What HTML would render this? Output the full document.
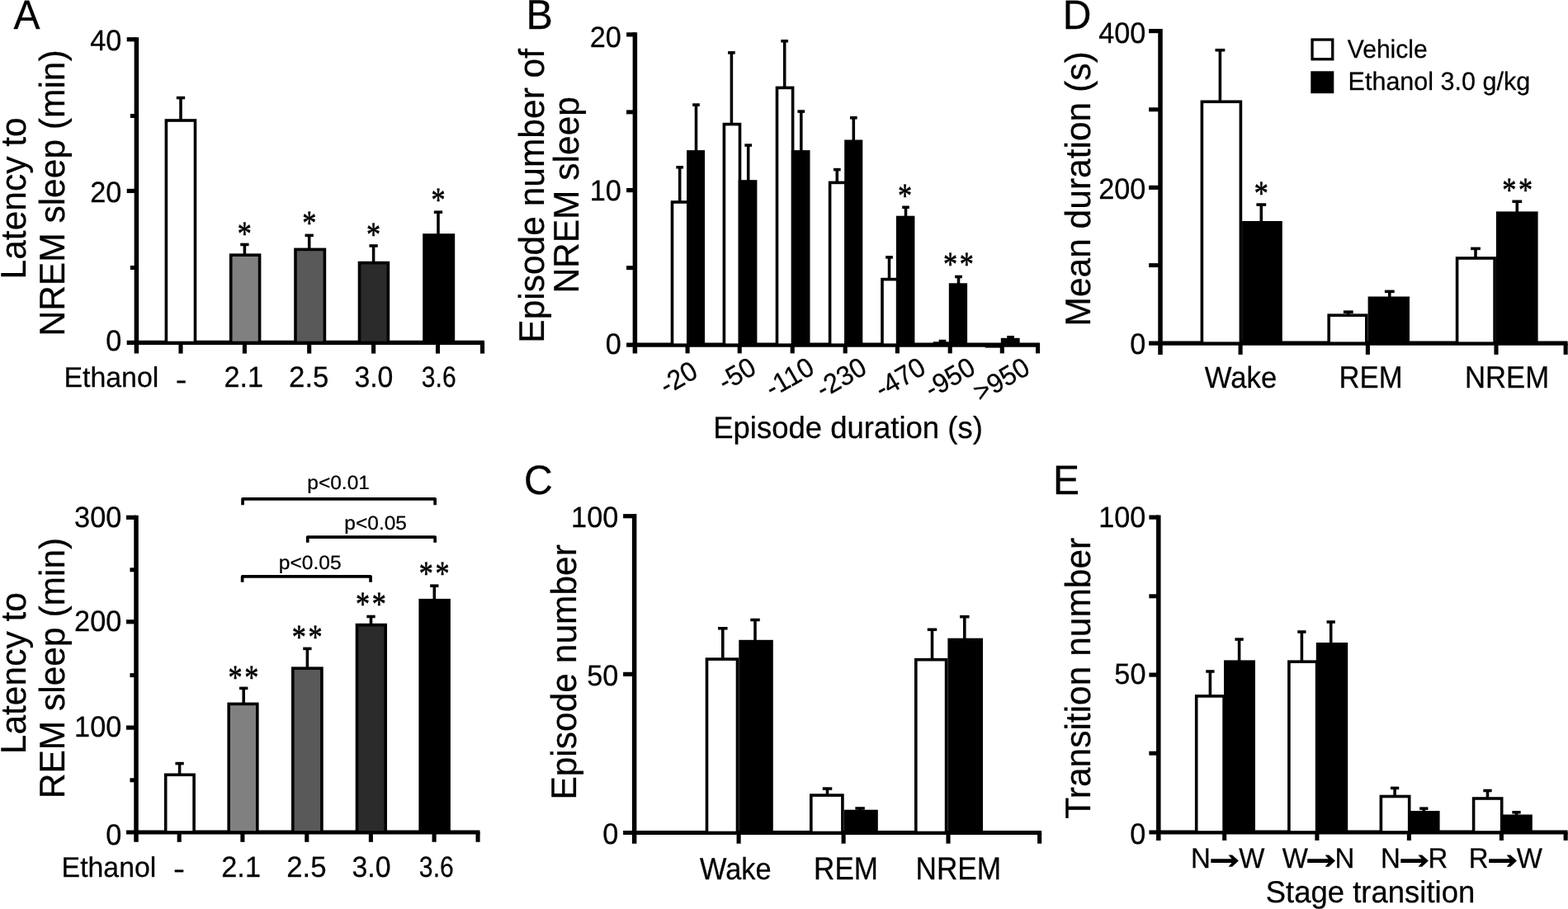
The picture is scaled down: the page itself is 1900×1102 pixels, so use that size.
<!DOCTYPE html>
<html lang="en">
<head>
<meta charset="utf-8">
<title>Figure</title>
<style>
html,body{margin:0;padding:0;background:#fff;}
body{width:1900px;height:1102px;overflow:hidden;}
svg{display:block;}
text{fill:#000;text-rendering:geometricPrecision;}
</style>
</head>
<body>
<svg width="1900" height="1102" viewBox="0 0 1900 1102">
<rect x="0" y="0" width="1900" height="1102" fill="#fff"/>
<text transform="translate(16.40,34.70) scale(1,1.04)" font-size="48" text-anchor="start" stroke="#000" stroke-width="0.25" font-family='"Liberation Sans", Arial, Helvetica, sans-serif' >A</text>
<line x1="165.40" y1="45.15" x2="165.40" y2="428.60" stroke="#000" stroke-width="5.5"/>
<line x1="153.70" y1="415.45" x2="587.00" y2="415.45" stroke="#000" stroke-width="5.2"/>
<line x1="153.70" y1="47.75" x2="165.40" y2="47.75" stroke="#000" stroke-width="5.2"/>
<line x1="153.70" y1="231.45" x2="165.40" y2="231.45" stroke="#000" stroke-width="5.2"/>
<line x1="157.85" y1="140.50" x2="165.40" y2="140.50" stroke="#000" stroke-width="5.0"/>
<line x1="157.85" y1="324.50" x2="165.40" y2="324.50" stroke="#000" stroke-width="5.0"/>
<line x1="219.00" y1="415.45" x2="219.00" y2="428.60" stroke="#000" stroke-width="5.1"/>
<line x1="296.40" y1="415.45" x2="296.40" y2="428.60" stroke="#000" stroke-width="5.1"/>
<line x1="374.70" y1="415.45" x2="374.70" y2="428.60" stroke="#000" stroke-width="5.1"/>
<line x1="452.60" y1="415.45" x2="452.60" y2="428.60" stroke="#000" stroke-width="5.1"/>
<line x1="530.50" y1="415.45" x2="530.50" y2="428.60" stroke="#000" stroke-width="5.1"/>
<line x1="584.55" y1="415.45" x2="584.55" y2="428.60" stroke="#000" stroke-width="5.1"/>
<text transform="translate(147.37,60.80) scale(1,1.03)" font-size="34.3" text-anchor="end" stroke="#000" stroke-width="0.25" font-family='"Liberation Sans", Arial, Helvetica, sans-serif'>40</text>
<text transform="translate(147.37,245.10) scale(1,1.03)" font-size="34.3" text-anchor="end" stroke="#000" stroke-width="0.25" font-family='"Liberation Sans", Arial, Helvetica, sans-serif'>20</text>
<text transform="translate(147.33,424.50) scale(1,1.03)" font-size="34.3" text-anchor="end" stroke="#000" stroke-width="0.25" font-family='"Liberation Sans", Arial, Helvetica, sans-serif'>0</text>
<line x1="213.85" y1="118.58" x2="224.15" y2="118.58" stroke="#000" stroke-width="3.55"/>
<line x1="219.00" y1="118.58" x2="219.00" y2="145.20" stroke="#000" stroke-width="3.55"/>
<rect x="201.40" y="146.00" width="35.10" height="269.45" fill="#fff" stroke="#000" stroke-width="3.6"/>
<line x1="291.25" y1="296.47" x2="301.55" y2="296.47" stroke="#000" stroke-width="3.55"/>
<line x1="296.40" y1="296.47" x2="296.40" y2="308.40" stroke="#000" stroke-width="3.55"/>
<rect x="279.70" y="309.20" width="34.90" height="106.25" fill="#808080" stroke="#000" stroke-width="3.6"/>
<line x1="369.55" y1="285.38" x2="379.85" y2="285.38" stroke="#000" stroke-width="3.55"/>
<line x1="374.70" y1="285.38" x2="374.70" y2="301.60" stroke="#000" stroke-width="3.55"/>
<rect x="358.00" y="302.40" width="35.40" height="113.05" fill="#595959" stroke="#000" stroke-width="3.6"/>
<line x1="447.45" y1="297.97" x2="457.75" y2="297.97" stroke="#000" stroke-width="3.55"/>
<line x1="452.60" y1="297.97" x2="452.60" y2="317.80" stroke="#000" stroke-width="3.55"/>
<rect x="435.50" y="318.60" width="34.90" height="96.85" fill="#2b2b2b" stroke="#000" stroke-width="3.6"/>
<line x1="525.85" y1="257.18" x2="536.15" y2="257.18" stroke="#000" stroke-width="3.55"/>
<line x1="531.00" y1="257.18" x2="531.00" y2="284.20" stroke="#000" stroke-width="3.55"/>
<rect x="512.20" y="283.20" width="39.00" height="132.25" fill="#000"/>
<text transform="translate(287.65,296.84) scale(0.855,1.04)" font-size="40" stroke="#000" stroke-width="0.6" stroke-linejoin="round" font-family='"Liberation Serif", "Times New Roman", serif' >*</text>
<text transform="translate(366.15,284.14) scale(0.855,1.04)" font-size="40" stroke="#000" stroke-width="0.6" stroke-linejoin="round" font-family='"Liberation Serif", "Times New Roman", serif' >*</text>
<text transform="translate(444.05,297.54) scale(0.855,1.04)" font-size="40" stroke="#000" stroke-width="0.6" stroke-linejoin="round" font-family='"Liberation Serif", "Times New Roman", serif' >*</text>
<text transform="translate(522.45,256.44) scale(0.855,1.04)" font-size="40" stroke="#000" stroke-width="0.6" stroke-linejoin="round" font-family='"Liberation Serif", "Times New Roman", serif' >*</text>
<text transform="translate(77.40,469.40) scale(0.9882,1.0)" font-size="34.30" text-anchor="start" stroke="#000" stroke-width="0.25" font-family='"Liberation Sans", Arial, Helvetica, sans-serif' >Ethanol</text>
<text transform="translate(212.84,471.50) scale(1.2019,1.0)" font-size="34.30" text-anchor="start" stroke="#000" stroke-width="0.25" font-family='"Liberation Sans", Arial, Helvetica, sans-serif' >-</text>
<text transform="translate(271.49,469.40) scale(1.0000,1.03)" font-size="34.30" text-anchor="start" stroke="#000" stroke-width="0.25" font-family='"Liberation Sans", Arial, Helvetica, sans-serif' >2.1</text>
<text transform="translate(350.06,469.40) scale(1.0148,1.03)" font-size="34.30" text-anchor="start" stroke="#000" stroke-width="0.25" font-family='"Liberation Sans", Arial, Helvetica, sans-serif' >2.5</text>
<text transform="translate(429.38,469.40) scale(0.9866,1.03)" font-size="34.30" text-anchor="start" stroke="#000" stroke-width="0.25" font-family='"Liberation Sans", Arial, Helvetica, sans-serif' >3.0</text>
<text transform="translate(510.87,469.40) scale(0.8769,1.03)" font-size="34.30" text-anchor="start" stroke="#000" stroke-width="0.25" font-family='"Liberation Sans", Arial, Helvetica, sans-serif' >3.6</text>
<text transform="translate(30.50,338.41) rotate(-90) scale(1,1.015)" font-size="42.50" stroke="#000" stroke-width="0.25" font-family='"Liberation Sans", Arial, Helvetica, sans-serif'>Latency to</text>
<text transform="translate(78.20,407.51) rotate(-90) scale(1,1.015)" font-size="42.50" stroke="#000" stroke-width="0.25" font-family='"Liberation Sans", Arial, Helvetica, sans-serif'>NREM sleep (min)</text>
<line x1="165.00" y1="624.70" x2="165.00" y2="1020.80" stroke="#000" stroke-width="5.5"/>
<line x1="153.00" y1="1009.00" x2="581.50" y2="1009.00" stroke="#000" stroke-width="5.2"/>
<line x1="153.00" y1="627.30" x2="165.00" y2="627.30" stroke="#000" stroke-width="5.2"/>
<line x1="153.00" y1="753.80" x2="165.00" y2="753.80" stroke="#000" stroke-width="5.2"/>
<line x1="153.00" y1="882.10" x2="165.00" y2="882.10" stroke="#000" stroke-width="5.2"/>
<line x1="157.45" y1="690.80" x2="165.00" y2="690.80" stroke="#000" stroke-width="5.0"/>
<line x1="157.45" y1="818.60" x2="165.00" y2="818.60" stroke="#000" stroke-width="5.0"/>
<line x1="157.45" y1="945.80" x2="165.00" y2="945.80" stroke="#000" stroke-width="5.0"/>
<line x1="217.20" y1="1009.00" x2="217.20" y2="1020.80" stroke="#000" stroke-width="5.1"/>
<line x1="293.90" y1="1009.00" x2="293.90" y2="1020.80" stroke="#000" stroke-width="5.1"/>
<line x1="371.80" y1="1009.00" x2="371.80" y2="1020.80" stroke="#000" stroke-width="5.1"/>
<line x1="449.40" y1="1009.00" x2="449.40" y2="1020.80" stroke="#000" stroke-width="5.1"/>
<line x1="526.10" y1="1009.00" x2="526.10" y2="1020.80" stroke="#000" stroke-width="5.1"/>
<line x1="579.05" y1="1009.00" x2="579.05" y2="1020.80" stroke="#000" stroke-width="5.1"/>
<text transform="translate(147.32,638.60) scale(1,1.03)" font-size="34.3" text-anchor="end" stroke="#000" stroke-width="0.25" font-family='"Liberation Sans", Arial, Helvetica, sans-serif'>300</text>
<text transform="translate(147.32,765.20) scale(1,1.03)" font-size="34.3" text-anchor="end" stroke="#000" stroke-width="0.25" font-family='"Liberation Sans", Arial, Helvetica, sans-serif'>200</text>
<text transform="translate(147.32,893.20) scale(1,1.03)" font-size="34.3" text-anchor="end" stroke="#000" stroke-width="0.25" font-family='"Liberation Sans", Arial, Helvetica, sans-serif'>100</text>
<text transform="translate(147.33,1023.50) scale(1,1.03)" font-size="34.3" text-anchor="end" stroke="#000" stroke-width="0.25" font-family='"Liberation Sans", Arial, Helvetica, sans-serif'>0</text>
<line x1="212.45" y1="925.57" x2="222.75" y2="925.57" stroke="#000" stroke-width="3.55"/>
<line x1="217.60" y1="925.57" x2="217.60" y2="938.50" stroke="#000" stroke-width="3.55"/>
<rect x="200.70" y="939.30" width="34.40" height="69.70" fill="#fff" stroke="#000" stroke-width="3.6"/>
<line x1="290.05" y1="834.38" x2="300.35" y2="834.38" stroke="#000" stroke-width="3.55"/>
<line x1="295.20" y1="834.38" x2="295.20" y2="852.60" stroke="#000" stroke-width="3.55"/>
<rect x="277.20" y="853.40" width="34.60" height="155.60" fill="#808080" stroke="#000" stroke-width="3.6"/>
<line x1="367.25" y1="786.38" x2="377.55" y2="786.38" stroke="#000" stroke-width="3.55"/>
<line x1="372.40" y1="786.38" x2="372.40" y2="809.40" stroke="#000" stroke-width="3.55"/>
<rect x="354.80" y="810.20" width="35.10" height="198.80" fill="#595959" stroke="#000" stroke-width="3.6"/>
<line x1="444.35" y1="747.48" x2="454.65" y2="747.48" stroke="#000" stroke-width="3.55"/>
<line x1="449.50" y1="747.48" x2="449.50" y2="756.80" stroke="#000" stroke-width="3.55"/>
<rect x="432.50" y="757.60" width="34.70" height="251.40" fill="#2b2b2b" stroke="#000" stroke-width="3.6"/>
<line x1="521.15" y1="710.17" x2="531.45" y2="710.17" stroke="#000" stroke-width="3.55"/>
<line x1="526.30" y1="710.17" x2="526.30" y2="726.90" stroke="#000" stroke-width="3.55"/>
<rect x="507.40" y="725.90" width="38.50" height="283.10" fill="#000"/>
<text transform="translate(276.55,835.44) scale(0.855,1.04)" font-size="40" stroke="#000" stroke-width="0.6" stroke-linejoin="round" font-family='"Liberation Serif", "Times New Roman", serif' letter-spacing="3.16">**</text>
<text transform="translate(353.75,785.74) scale(0.855,1.04)" font-size="40" stroke="#000" stroke-width="0.6" stroke-linejoin="round" font-family='"Liberation Serif", "Times New Roman", serif' letter-spacing="3.16">**</text>
<text transform="translate(431.05,746.24) scale(0.855,1.04)" font-size="40" stroke="#000" stroke-width="0.6" stroke-linejoin="round" font-family='"Liberation Serif", "Times New Roman", serif' letter-spacing="3.16">**</text>
<text transform="translate(507.65,709.24) scale(0.855,1.04)" font-size="40" stroke="#000" stroke-width="0.6" stroke-linejoin="round" font-family='"Liberation Serif", "Times New Roman", serif' letter-spacing="3.16">**</text>
<text transform="translate(74.61,1062.75) scale(0.9855,1.0)" font-size="34.30" text-anchor="start" stroke="#000" stroke-width="0.25" font-family='"Liberation Sans", Arial, Helvetica, sans-serif' >Ethanol</text>
<text transform="translate(209.91,1064.80) scale(1.2257,1.0)" font-size="34.30" text-anchor="start" stroke="#000" stroke-width="0.25" font-family='"Liberation Sans", Arial, Helvetica, sans-serif' >-</text>
<text transform="translate(268.29,1062.75) scale(1.0000,1.03)" font-size="34.30" text-anchor="start" stroke="#000" stroke-width="0.25" font-family='"Liberation Sans", Arial, Helvetica, sans-serif' >2.1</text>
<text transform="translate(347.16,1062.75) scale(1.0137,1.03)" font-size="34.30" text-anchor="start" stroke="#000" stroke-width="0.25" font-family='"Liberation Sans", Arial, Helvetica, sans-serif' >2.5</text>
<text transform="translate(426.43,1062.75) scale(0.9866,1.03)" font-size="34.30" text-anchor="start" stroke="#000" stroke-width="0.25" font-family='"Liberation Sans", Arial, Helvetica, sans-serif' >3.0</text>
<text transform="translate(507.87,1062.75) scale(0.8791,1.03)" font-size="34.30" text-anchor="start" stroke="#000" stroke-width="0.25" font-family='"Liberation Sans", Arial, Helvetica, sans-serif' >3.6</text>
<text transform="translate(30.50,914.21) rotate(-90) scale(1,1.015)" font-size="42.50" stroke="#000" stroke-width="0.25" font-family='"Liberation Sans", Arial, Helvetica, sans-serif'>Latency to</text>
<text transform="translate(78.20,968.21) rotate(-90) scale(1,1.015)" font-size="42.50" stroke="#000" stroke-width="0.25" font-family='"Liberation Sans", Arial, Helvetica, sans-serif'>REM sleep (min)</text>
<path d="M294.05 612.20 V604.85 H527.15 V612.20" fill="none" stroke="#000" stroke-width="3.7" stroke-linejoin="round"/>
<path d="M372.75 657.80 V651.05 H527.15 V657.80" fill="none" stroke="#000" stroke-width="3.7" stroke-linejoin="round"/>
<path d="M293.65 705.70 V698.95 H449.05 V705.70" fill="none" stroke="#000" stroke-width="3.7" stroke-linejoin="round"/>
<text transform="translate(372.31,593.00) scale(1.0000,0.96)" font-size="24.50" text-anchor="start" stroke="#000" stroke-width="0.25" font-family='"Liberation Sans", Arial, Helvetica, sans-serif' >p&lt;0.01</text>
<text transform="translate(417.37,642.00) scale(0.9990,0.96)" font-size="24.50" text-anchor="start" stroke="#000" stroke-width="0.25" font-family='"Liberation Sans", Arial, Helvetica, sans-serif' >p&lt;0.05</text>
<text transform="translate(337.80,690.45) scale(1.0026,0.96)" font-size="24.50" text-anchor="start" stroke="#000" stroke-width="0.25" font-family='"Liberation Sans", Arial, Helvetica, sans-serif' >p&lt;0.05</text>
<text transform="translate(637.50,34.80) scale(1,1.04)" font-size="48.5" text-anchor="start" stroke="#000" stroke-width="0.25" font-family='"Liberation Sans", Arial, Helvetica, sans-serif' >B</text>
<line x1="769.40" y1="39.30" x2="769.40" y2="428.40" stroke="#000" stroke-width="5.5"/>
<line x1="759.10" y1="418.20" x2="1260.00" y2="418.20" stroke="#000" stroke-width="5.2"/>
<line x1="759.10" y1="41.90" x2="769.40" y2="41.90" stroke="#000" stroke-width="5.2"/>
<line x1="759.10" y1="230.60" x2="769.40" y2="230.60" stroke="#000" stroke-width="5.2"/>
<line x1="759.05" y1="135.90" x2="769.40" y2="135.90" stroke="#000" stroke-width="5.0"/>
<line x1="759.05" y1="324.70" x2="769.40" y2="324.70" stroke="#000" stroke-width="5.0"/>
<line x1="833.10" y1="418.20" x2="833.10" y2="428.40" stroke="#000" stroke-width="5.1"/>
<line x1="896.20" y1="418.20" x2="896.20" y2="428.40" stroke="#000" stroke-width="5.1"/>
<line x1="960.20" y1="418.20" x2="960.20" y2="428.40" stroke="#000" stroke-width="5.1"/>
<line x1="1024.20" y1="418.20" x2="1024.20" y2="428.40" stroke="#000" stroke-width="5.1"/>
<line x1="1087.40" y1="418.20" x2="1087.40" y2="428.40" stroke="#000" stroke-width="5.1"/>
<line x1="1151.20" y1="418.20" x2="1151.20" y2="428.40" stroke="#000" stroke-width="5.1"/>
<line x1="1214.30" y1="418.20" x2="1214.30" y2="428.40" stroke="#000" stroke-width="5.1"/>
<line x1="1257.55" y1="418.20" x2="1257.55" y2="428.40" stroke="#000" stroke-width="5.1"/>
<text transform="translate(752.87,57.10) scale(1,1.03)" font-size="34.3" text-anchor="end" stroke="#000" stroke-width="0.25" font-family='"Liberation Sans", Arial, Helvetica, sans-serif'>20</text>
<text transform="translate(752.87,242.60) scale(1,1.03)" font-size="34.3" text-anchor="end" stroke="#000" stroke-width="0.25" font-family='"Liberation Sans", Arial, Helvetica, sans-serif'>10</text>
<text transform="translate(752.83,428.90) scale(1,1.03)" font-size="34.3" text-anchor="end" stroke="#000" stroke-width="0.25" font-family='"Liberation Sans", Arial, Helvetica, sans-serif'>0</text>
<line x1="819.35" y1="202.78" x2="828.05" y2="202.78" stroke="#000" stroke-width="3.55"/>
<line x1="823.70" y1="202.78" x2="823.70" y2="244.20" stroke="#000" stroke-width="3.55"/>
<rect x="814.50" y="245.00" width="19.40" height="173.20" fill="#fff" stroke="#000" stroke-width="3.6"/>
<line x1="839.15" y1="127.08" x2="847.85" y2="127.08" stroke="#000" stroke-width="3.55"/>
<line x1="843.50" y1="127.08" x2="843.50" y2="183.10" stroke="#000" stroke-width="3.55"/>
<rect x="832.10" y="182.10" width="21.95" height="236.10" fill="#000"/>
<line x1="882.05" y1="63.88" x2="890.75" y2="63.88" stroke="#000" stroke-width="3.55"/>
<line x1="886.40" y1="63.88" x2="886.40" y2="149.80" stroke="#000" stroke-width="3.55"/>
<rect x="877.40" y="150.60" width="19.10" height="267.60" fill="#fff" stroke="#000" stroke-width="3.6"/>
<line x1="902.35" y1="176.08" x2="911.05" y2="176.08" stroke="#000" stroke-width="3.55"/>
<line x1="906.70" y1="176.08" x2="906.70" y2="219.20" stroke="#000" stroke-width="3.55"/>
<rect x="894.70" y="218.20" width="22.70" height="200.00" fill="#000"/>
<line x1="946.35" y1="49.77" x2="955.05" y2="49.77" stroke="#000" stroke-width="3.55"/>
<line x1="950.70" y1="49.77" x2="950.70" y2="105.60" stroke="#000" stroke-width="3.55"/>
<rect x="941.50" y="106.40" width="19.10" height="311.80" fill="#fff" stroke="#000" stroke-width="3.6"/>
<line x1="966.45" y1="135.08" x2="975.15" y2="135.08" stroke="#000" stroke-width="3.55"/>
<line x1="970.80" y1="135.08" x2="970.80" y2="183.10" stroke="#000" stroke-width="3.55"/>
<rect x="958.80" y="182.10" width="22.70" height="236.10" fill="#000"/>
<line x1="1009.95" y1="205.58" x2="1018.65" y2="205.58" stroke="#000" stroke-width="3.55"/>
<line x1="1014.30" y1="205.58" x2="1014.30" y2="220.60" stroke="#000" stroke-width="3.55"/>
<rect x="1005.60" y="221.40" width="19.40" height="196.80" fill="#fff" stroke="#000" stroke-width="3.6"/>
<line x1="1029.95" y1="142.78" x2="1038.65" y2="142.78" stroke="#000" stroke-width="3.55"/>
<line x1="1034.30" y1="142.78" x2="1034.30" y2="170.50" stroke="#000" stroke-width="3.55"/>
<rect x="1023.20" y="169.50" width="22.10" height="248.70" fill="#000"/>
<line x1="1073.15" y1="311.88" x2="1081.85" y2="311.88" stroke="#000" stroke-width="3.55"/>
<line x1="1077.50" y1="311.88" x2="1077.50" y2="337.80" stroke="#000" stroke-width="3.55"/>
<rect x="1069.00" y="338.60" width="18.70" height="79.60" fill="#fff" stroke="#000" stroke-width="3.6"/>
<line x1="1093.15" y1="251.28" x2="1101.85" y2="251.28" stroke="#000" stroke-width="3.55"/>
<line x1="1097.50" y1="251.28" x2="1097.50" y2="262.70" stroke="#000" stroke-width="3.55"/>
<rect x="1085.90" y="261.70" width="22.50" height="156.50" fill="#000"/>
<line x1="1137.65" y1="413.57" x2="1146.35" y2="413.57" stroke="#000" stroke-width="3.55"/>
<line x1="1142.00" y1="413.57" x2="1142.00" y2="415.30" stroke="#000" stroke-width="3.55"/>
<rect x="1132.55" y="416.10" width="16.65" height="2.10" fill="#fff" stroke="#000" stroke-width="3.6"/>
<line x1="1157.15" y1="335.47" x2="1165.85" y2="335.47" stroke="#000" stroke-width="3.55"/>
<line x1="1161.50" y1="335.47" x2="1161.50" y2="344.30" stroke="#000" stroke-width="3.55"/>
<rect x="1149.80" y="343.30" width="22.30" height="74.90" fill="#000"/>
<line x1="1220.25" y1="408.77" x2="1228.95" y2="408.77" stroke="#000" stroke-width="3.55"/>
<line x1="1224.60" y1="408.77" x2="1224.60" y2="410.80" stroke="#000" stroke-width="3.55"/>
<rect x="1212.80" y="409.80" width="22.85" height="8.40" fill="#000"/>
<rect x="1193.7" y="417" width="19" height="4.6" fill="#000"/>
<text transform="translate(1088.05,250.64) scale(0.855,1.04)" font-size="40" stroke="#000" stroke-width="0.6" stroke-linejoin="round" font-family='"Liberation Serif", "Times New Roman", serif' >*</text>
<text transform="translate(1143.05,334.04) scale(0.855,1.04)" font-size="40" stroke="#000" stroke-width="0.6" stroke-linejoin="round" font-family='"Liberation Serif", "Times New Roman", serif' letter-spacing="3.16">**</text>
<text transform="translate(847.6,456.2) rotate(-30) scale(1,1.03)" font-size="32" text-anchor="end" stroke="#000" stroke-width="0.25" font-family='"Liberation Sans", Arial, Helvetica, sans-serif'>-20</text>
<text transform="translate(918.5,451.6) rotate(-30) scale(1,1.03)" font-size="32" text-anchor="end" stroke="#000" stroke-width="0.25" font-family='"Liberation Sans", Arial, Helvetica, sans-serif'>-50</text>
<text transform="translate(989.0,451.6) rotate(-30) scale(1,1.03)" font-size="32" text-anchor="end" stroke="#000" stroke-width="0.25" font-family='"Liberation Sans", Arial, Helvetica, sans-serif'>-110</text>
<text transform="translate(1052.5,451.6) rotate(-30) scale(1,1.03)" font-size="32" text-anchor="end" stroke="#000" stroke-width="0.25" font-family='"Liberation Sans", Arial, Helvetica, sans-serif'>-230</text>
<text transform="translate(1124.0,451.6) rotate(-30) scale(1,1.03)" font-size="32" text-anchor="end" stroke="#000" stroke-width="0.25" font-family='"Liberation Sans", Arial, Helvetica, sans-serif'>-470</text>
<text transform="translate(1184.2,451.6) rotate(-30) scale(1,1.03)" font-size="32" text-anchor="end" stroke="#000" stroke-width="0.25" font-family='"Liberation Sans", Arial, Helvetica, sans-serif'>-950</text>
<text transform="translate(1250.2,451.8) rotate(-30) scale(1,1.03)" font-size="32" text-anchor="end" stroke="#000" stroke-width="0.25" font-family='"Liberation Sans", Arial, Helvetica, sans-serif'>&gt;950</text>
<text transform="translate(1027.50,530.60) scale(1,1.02)" font-size="36.5" text-anchor="middle" stroke="#000" stroke-width="0.25" font-family='"Liberation Sans", Arial, Helvetica, sans-serif' >Episode duration (s)</text>
<text transform="translate(659.00,415.71) rotate(-90) scale(1,1.015)" font-size="42.50" stroke="#000" stroke-width="0.25" font-family='"Liberation Sans", Arial, Helvetica, sans-serif'>Episode number of</text>
<text transform="translate(700.90,355.61) rotate(-90) scale(1,1.015)" font-size="42.50" stroke="#000" stroke-width="0.25" font-family='"Liberation Sans", Arial, Helvetica, sans-serif'>NREM sleep</text>
<text transform="translate(635.00,598.90) scale(1,1.04)" font-size="48" text-anchor="start" stroke="#000" stroke-width="0.25" font-family='"Liberation Sans", Arial, Helvetica, sans-serif' >C</text>
<line x1="768.65" y1="623.10" x2="768.65" y2="1022.70" stroke="#000" stroke-width="5.5"/>
<line x1="755.10" y1="1009.50" x2="1262.10" y2="1009.50" stroke="#000" stroke-width="5.2"/>
<line x1="755.10" y1="625.70" x2="768.65" y2="625.70" stroke="#000" stroke-width="5.2"/>
<line x1="755.10" y1="817.35" x2="768.65" y2="817.35" stroke="#000" stroke-width="5.2"/>
<line x1="895.10" y1="1009.50" x2="895.10" y2="1022.70" stroke="#000" stroke-width="5.1"/>
<line x1="1022.10" y1="1009.50" x2="1022.10" y2="1022.70" stroke="#000" stroke-width="5.1"/>
<line x1="1149.00" y1="1009.50" x2="1149.00" y2="1022.70" stroke="#000" stroke-width="5.1"/>
<line x1="1259.65" y1="1009.50" x2="1259.65" y2="1022.70" stroke="#000" stroke-width="5.1"/>
<text transform="translate(749.32,638.60) scale(1,1.03)" font-size="34.3" text-anchor="end" stroke="#000" stroke-width="0.25" font-family='"Liberation Sans", Arial, Helvetica, sans-serif'>100</text>
<text transform="translate(749.37,830.50) scale(1,1.03)" font-size="34.3" text-anchor="end" stroke="#000" stroke-width="0.25" font-family='"Liberation Sans", Arial, Helvetica, sans-serif'>50</text>
<text transform="translate(749.33,1022.70) scale(1,1.03)" font-size="34.3" text-anchor="end" stroke="#000" stroke-width="0.25" font-family='"Liberation Sans", Arial, Helvetica, sans-serif'>0</text>
<line x1="870.05" y1="761.77" x2="881.55" y2="761.77" stroke="#000" stroke-width="3.55"/>
<line x1="875.80" y1="761.77" x2="875.80" y2="798.30" stroke="#000" stroke-width="3.55"/>
<rect x="856.50" y="799.10" width="37.00" height="210.40" fill="#fff" stroke="#000" stroke-width="3.6"/>
<line x1="909.25" y1="751.48" x2="920.75" y2="751.48" stroke="#000" stroke-width="3.55"/>
<line x1="915.00" y1="751.48" x2="915.00" y2="776.80" stroke="#000" stroke-width="3.55"/>
<rect x="895.30" y="775.80" width="41.50" height="233.70" fill="#000"/>
<line x1="996.75" y1="956.07" x2="1008.25" y2="956.07" stroke="#000" stroke-width="3.55"/>
<line x1="1002.50" y1="956.07" x2="1002.50" y2="963.30" stroke="#000" stroke-width="3.55"/>
<rect x="982.80" y="964.10" width="38.10" height="45.40" fill="#fff" stroke="#000" stroke-width="3.6"/>
<line x1="1036.35" y1="979.98" x2="1047.85" y2="979.98" stroke="#000" stroke-width="3.55"/>
<line x1="1042.10" y1="979.98" x2="1042.10" y2="982.70" stroke="#000" stroke-width="3.55"/>
<rect x="1022.70" y="981.70" width="41.10" height="27.80" fill="#000"/>
<line x1="1123.75" y1="763.27" x2="1135.25" y2="763.27" stroke="#000" stroke-width="3.55"/>
<line x1="1129.50" y1="763.27" x2="1129.50" y2="798.90" stroke="#000" stroke-width="3.55"/>
<rect x="1109.80" y="799.70" width="36.80" height="209.80" fill="#fff" stroke="#000" stroke-width="3.6"/>
<line x1="1163.05" y1="747.67" x2="1174.55" y2="747.67" stroke="#000" stroke-width="3.55"/>
<line x1="1168.80" y1="747.67" x2="1168.80" y2="774.70" stroke="#000" stroke-width="3.55"/>
<rect x="1148.40" y="773.70" width="42.60" height="235.80" fill="#000"/>
<text transform="translate(848.03,1066.30) scale(0.9765,1.06)" font-size="35.20" text-anchor="start" stroke="#000" stroke-width="0.25" font-family='"Liberation Sans", Arial, Helvetica, sans-serif' >Wake</text>
<text transform="translate(986.11,1066.30) scale(0.9955,1.095)" font-size="35.20" text-anchor="start" stroke="#000" stroke-width="0.25" font-family='"Liberation Sans", Arial, Helvetica, sans-serif' >REM</text>
<text transform="translate(1109.49,1066.30) scale(1.0004,1.095)" font-size="35.20" text-anchor="start" stroke="#000" stroke-width="0.25" font-family='"Liberation Sans", Arial, Helvetica, sans-serif' >NREM</text>
<text transform="translate(697.70,969.61) rotate(-90) scale(1,1.015)" font-size="42.50" stroke="#000" stroke-width="0.25" font-family='"Liberation Sans", Arial, Helvetica, sans-serif'>Episode number</text>
<text transform="translate(1287.80,34.70) scale(1,1.04)" font-size="48" text-anchor="start" stroke="#000" stroke-width="0.25" font-family='"Liberation Sans", Arial, Helvetica, sans-serif' >D</text>
<line x1="1406.00" y1="35.00" x2="1406.00" y2="429.90" stroke="#000" stroke-width="5.5"/>
<line x1="1392.10" y1="416.20" x2="1899.60" y2="416.20" stroke="#000" stroke-width="5.2"/>
<line x1="1392.10" y1="37.60" x2="1406.00" y2="37.60" stroke="#000" stroke-width="5.2"/>
<line x1="1392.10" y1="227.35" x2="1406.00" y2="227.35" stroke="#000" stroke-width="5.2"/>
<line x1="1392.15" y1="132.80" x2="1406.00" y2="132.80" stroke="#000" stroke-width="5.0"/>
<line x1="1392.15" y1="321.60" x2="1406.00" y2="321.60" stroke="#000" stroke-width="5.0"/>
<line x1="1503.10" y1="416.20" x2="1503.10" y2="429.90" stroke="#000" stroke-width="5.1"/>
<line x1="1657.40" y1="416.20" x2="1657.40" y2="429.90" stroke="#000" stroke-width="5.1"/>
<line x1="1813.00" y1="416.20" x2="1813.00" y2="429.90" stroke="#000" stroke-width="5.1"/>
<line x1="1897.15" y1="416.20" x2="1897.15" y2="429.90" stroke="#000" stroke-width="5.1"/>
<text transform="translate(1388.42,51.90) scale(1,1.03)" font-size="34.3" text-anchor="end" stroke="#000" stroke-width="0.25" font-family='"Liberation Sans", Arial, Helvetica, sans-serif'>400</text>
<text transform="translate(1388.42,240.50) scale(1,1.03)" font-size="34.3" text-anchor="end" stroke="#000" stroke-width="0.25" font-family='"Liberation Sans", Arial, Helvetica, sans-serif'>200</text>
<text transform="translate(1388.43,428.50) scale(1,1.03)" font-size="34.3" text-anchor="end" stroke="#000" stroke-width="0.25" font-family='"Liberation Sans", Arial, Helvetica, sans-serif'>0</text>
<line x1="1472.50" y1="60.77" x2="1484.30" y2="60.77" stroke="#000" stroke-width="3.55"/>
<line x1="1478.40" y1="60.77" x2="1478.40" y2="122.50" stroke="#000" stroke-width="3.55"/>
<rect x="1456.40" y="123.30" width="47.00" height="292.90" fill="#fff" stroke="#000" stroke-width="3.6"/>
<line x1="1522.40" y1="248.08" x2="1534.20" y2="248.08" stroke="#000" stroke-width="3.55"/>
<line x1="1528.30" y1="248.08" x2="1528.30" y2="269.00" stroke="#000" stroke-width="3.55"/>
<rect x="1505.10" y="268.00" width="48.70" height="148.20" fill="#000"/>
<line x1="1627.90" y1="378.17" x2="1639.70" y2="378.17" stroke="#000" stroke-width="3.55"/>
<line x1="1633.80" y1="378.17" x2="1633.80" y2="381.40" stroke="#000" stroke-width="3.55"/>
<rect x="1610.20" y="382.20" width="45.60" height="34.00" fill="#fff" stroke="#000" stroke-width="3.6"/>
<line x1="1677.90" y1="353.38" x2="1689.70" y2="353.38" stroke="#000" stroke-width="3.55"/>
<line x1="1683.80" y1="353.38" x2="1683.80" y2="360.50" stroke="#000" stroke-width="3.55"/>
<rect x="1657.60" y="359.50" width="50.40" height="56.70" fill="#000"/>
<line x1="1782.10" y1="301.38" x2="1793.90" y2="301.38" stroke="#000" stroke-width="3.55"/>
<line x1="1788.00" y1="301.38" x2="1788.00" y2="312.20" stroke="#000" stroke-width="3.55"/>
<rect x="1765.60" y="313.00" width="45.50" height="103.20" fill="#fff" stroke="#000" stroke-width="3.6"/>
<line x1="1832.40" y1="244.28" x2="1844.20" y2="244.28" stroke="#000" stroke-width="3.55"/>
<line x1="1838.30" y1="244.28" x2="1838.30" y2="257.40" stroke="#000" stroke-width="3.55"/>
<rect x="1812.90" y="256.40" width="50.70" height="159.80" fill="#000"/>
<text transform="translate(1519.85,247.94) scale(0.855,1.04)" font-size="40" stroke="#000" stroke-width="0.6" stroke-linejoin="round" font-family='"Liberation Serif", "Times New Roman", serif' >*</text>
<text transform="translate(1820.15,244.29) scale(0.855,1.04)" font-size="40" stroke="#000" stroke-width="0.6" stroke-linejoin="round" font-family='"Liberation Serif", "Times New Roman", serif' letter-spacing="3.16">**</text>
<text transform="translate(1503.50,469.60) scale(1,1.05)" font-size="34.7" text-anchor="middle" stroke="#000" stroke-width="0.25" font-family='"Liberation Sans", Arial, Helvetica, sans-serif' >Wake</text>
<text transform="translate(1661.00,469.60) scale(1,1.08)" font-size="34.7" text-anchor="middle" stroke="#000" stroke-width="0.25" font-family='"Liberation Sans", Arial, Helvetica, sans-serif' >REM</text>
<text transform="translate(1826.00,469.60) scale(1,1.08)" font-size="34.7" text-anchor="middle" stroke="#000" stroke-width="0.25" font-family='"Liberation Sans", Arial, Helvetica, sans-serif' >NREM</text>
<text transform="translate(1320.60,395.51) rotate(-90) scale(1,1.015)" font-size="42.50" stroke="#000" stroke-width="0.25" font-family='"Liberation Sans", Arial, Helvetica, sans-serif'>Mean duration (s)</text>
<rect x="1590.05" y="48.05" width="24.7" height="23.7" fill="#fff" stroke="#000" stroke-width="3.3"/>
<rect x="1588.3" y="86.3" width="28" height="26.9" fill="#000"/>
<text transform="translate(1632.75,69.50) scale(0.9927,1.02)" font-size="30.30" text-anchor="start" stroke="#000" stroke-width="0.25" font-family='"Liberation Sans", Arial, Helvetica, sans-serif' >Vehicle</text>
<text transform="translate(1633.53,109.30) scale(1.0082,1.02)" font-size="30.30" text-anchor="start" stroke="#000" stroke-width="0.25" font-family='"Liberation Sans", Arial, Helvetica, sans-serif' >Ethanol 3.0 g/kg</text>
<text transform="translate(1276.00,598.70) scale(1,1.04)" font-size="48" text-anchor="start" stroke="#000" stroke-width="0.25" font-family='"Liberation Sans", Arial, Helvetica, sans-serif' >E</text>
<line x1="1403.80" y1="624.50" x2="1403.80" y2="1018.90" stroke="#000" stroke-width="5.5"/>
<line x1="1392.40" y1="1009.00" x2="1899.60" y2="1009.00" stroke="#000" stroke-width="5.2"/>
<line x1="1392.40" y1="627.10" x2="1403.80" y2="627.10" stroke="#000" stroke-width="5.2"/>
<line x1="1392.40" y1="818.10" x2="1403.80" y2="818.10" stroke="#000" stroke-width="5.2"/>
<line x1="1392.35" y1="722.80" x2="1403.80" y2="722.80" stroke="#000" stroke-width="5.0"/>
<line x1="1392.35" y1="913.20" x2="1403.80" y2="913.20" stroke="#000" stroke-width="5.0"/>
<line x1="1483.70" y1="1009.00" x2="1483.70" y2="1018.90" stroke="#000" stroke-width="5.1"/>
<line x1="1595.90" y1="1009.00" x2="1595.90" y2="1018.90" stroke="#000" stroke-width="5.1"/>
<line x1="1707.40" y1="1009.00" x2="1707.40" y2="1018.90" stroke="#000" stroke-width="5.1"/>
<line x1="1819.40" y1="1009.00" x2="1819.40" y2="1018.90" stroke="#000" stroke-width="5.1"/>
<line x1="1897.15" y1="1009.00" x2="1897.15" y2="1018.90" stroke="#000" stroke-width="5.1"/>
<text transform="translate(1388.42,638.60) scale(1,1.03)" font-size="34.3" text-anchor="end" stroke="#000" stroke-width="0.25" font-family='"Liberation Sans", Arial, Helvetica, sans-serif'>100</text>
<text transform="translate(1388.47,829.20) scale(1,1.03)" font-size="34.3" text-anchor="end" stroke="#000" stroke-width="0.25" font-family='"Liberation Sans", Arial, Helvetica, sans-serif'>50</text>
<text transform="translate(1388.43,1022.70) scale(1,1.03)" font-size="34.3" text-anchor="end" stroke="#000" stroke-width="0.25" font-family='"Liberation Sans", Arial, Helvetica, sans-serif'>0</text>
<line x1="1461.25" y1="813.98" x2="1471.55" y2="813.98" stroke="#000" stroke-width="3.55"/>
<line x1="1466.40" y1="813.98" x2="1466.40" y2="843.10" stroke="#000" stroke-width="3.55"/>
<rect x="1449.70" y="843.90" width="33.40" height="165.10" fill="#fff" stroke="#000" stroke-width="3.6"/>
<line x1="1496.45" y1="775.07" x2="1506.75" y2="775.07" stroke="#000" stroke-width="3.55"/>
<line x1="1501.60" y1="775.07" x2="1501.60" y2="801.40" stroke="#000" stroke-width="3.55"/>
<rect x="1483.00" y="800.40" width="38.00" height="208.60" fill="#000"/>
<line x1="1572.25" y1="765.98" x2="1582.55" y2="765.98" stroke="#000" stroke-width="3.55"/>
<line x1="1577.40" y1="765.98" x2="1577.40" y2="801.40" stroke="#000" stroke-width="3.55"/>
<rect x="1561.90" y="802.20" width="33.70" height="206.80" fill="#fff" stroke="#000" stroke-width="3.6"/>
<line x1="1607.55" y1="753.98" x2="1617.85" y2="753.98" stroke="#000" stroke-width="3.55"/>
<line x1="1612.70" y1="753.98" x2="1612.70" y2="780.00" stroke="#000" stroke-width="3.55"/>
<rect x="1594.80" y="779.00" width="38.40" height="230.00" fill="#000"/>
<line x1="1684.95" y1="955.38" x2="1695.25" y2="955.38" stroke="#000" stroke-width="3.55"/>
<line x1="1690.10" y1="955.38" x2="1690.10" y2="964.70" stroke="#000" stroke-width="3.55"/>
<rect x="1673.40" y="965.50" width="34.30" height="43.50" fill="#fff" stroke="#000" stroke-width="3.6"/>
<line x1="1720.15" y1="980.17" x2="1730.45" y2="980.17" stroke="#000" stroke-width="3.55"/>
<line x1="1725.30" y1="980.17" x2="1725.30" y2="984.00" stroke="#000" stroke-width="3.55"/>
<rect x="1706.30" y="983.00" width="38.30" height="26.00" fill="#000"/>
<line x1="1797.35" y1="958.48" x2="1807.65" y2="958.48" stroke="#000" stroke-width="3.55"/>
<line x1="1802.50" y1="958.48" x2="1802.50" y2="967.20" stroke="#000" stroke-width="3.55"/>
<rect x="1785.60" y="968.00" width="34.10" height="41.00" fill="#fff" stroke="#000" stroke-width="3.6"/>
<line x1="1832.35" y1="984.77" x2="1842.65" y2="984.77" stroke="#000" stroke-width="3.55"/>
<line x1="1837.50" y1="984.77" x2="1837.50" y2="988.50" stroke="#000" stroke-width="3.55"/>
<rect x="1818.50" y="987.50" width="38.30" height="21.50" fill="#000"/>
<text transform="translate(1442.88,1051.70) scale(1.0000,1.04)" font-size="33.00" text-anchor="start" stroke="#000" stroke-width="0.25" font-family='"Liberation Sans", Arial, Helvetica, sans-serif' >N</text>
<path d="M1467.30 1041.25 H1492.50 L1488.50 1036.50 H1493.10 L1500.90 1043.60 L1493.10 1050.70 H1488.50 L1492.50 1045.95 H1467.30 Z" fill="#000"/>
<text transform="translate(1501.13,1051.70) scale(1.0000,1.04)" font-size="33.00" text-anchor="start" stroke="#000" stroke-width="0.25" font-family='"Liberation Sans", Arial, Helvetica, sans-serif' >W</text>
<text transform="translate(1553.84,1051.70) scale(1.0000,1.04)" font-size="33.00" text-anchor="start" stroke="#000" stroke-width="0.25" font-family='"Liberation Sans", Arial, Helvetica, sans-serif' >W</text>
<path d="M1584.20 1041.25 H1609.60 L1605.60 1036.50 H1610.20 L1618.00 1043.60 L1610.20 1050.70 H1605.60 L1609.60 1045.95 H1584.20 Z" fill="#000"/>
<text transform="translate(1617.48,1051.70) scale(1.0000,1.04)" font-size="33.00" text-anchor="start" stroke="#000" stroke-width="0.25" font-family='"Liberation Sans", Arial, Helvetica, sans-serif' >N</text>
<text transform="translate(1672.88,1051.70) scale(1.0000,1.04)" font-size="33.00" text-anchor="start" stroke="#000" stroke-width="0.25" font-family='"Liberation Sans", Arial, Helvetica, sans-serif' >N</text>
<path d="M1697.30 1041.25 H1722.50 L1718.50 1036.50 H1723.10 L1730.90 1043.60 L1723.10 1050.70 H1718.50 L1722.50 1045.95 H1697.30 Z" fill="#000"/>
<text transform="translate(1730.58,1051.70) scale(1.0000,1.04)" font-size="33.00" text-anchor="start" stroke="#000" stroke-width="0.25" font-family='"Liberation Sans", Arial, Helvetica, sans-serif' >R</text>
<text transform="translate(1779.73,1051.70) scale(1.0000,1.04)" font-size="33.00" text-anchor="start" stroke="#000" stroke-width="0.25" font-family='"Liberation Sans", Arial, Helvetica, sans-serif' >R</text>
<path d="M1804.20 1041.25 H1829.60 L1825.60 1036.50 H1830.20 L1838.00 1043.60 L1830.20 1050.70 H1825.60 L1829.60 1045.95 H1804.20 Z" fill="#000"/>
<text transform="translate(1837.84,1051.70) scale(1.0000,1.04)" font-size="33.00" text-anchor="start" stroke="#000" stroke-width="0.25" font-family='"Liberation Sans", Arial, Helvetica, sans-serif' >W</text>
<text transform="translate(1660.50,1094.40) scale(1,1.02)" font-size="36.5" text-anchor="middle" stroke="#000" stroke-width="0.25" font-family='"Liberation Sans", Arial, Helvetica, sans-serif' >Stage transition</text>
<text transform="translate(1320.60,992.66) rotate(-90) scale(1,1.015)" font-size="42.50" stroke="#000" stroke-width="0.25" font-family='"Liberation Sans", Arial, Helvetica, sans-serif'>Transition number</text>
</svg>
</body>
</html>
